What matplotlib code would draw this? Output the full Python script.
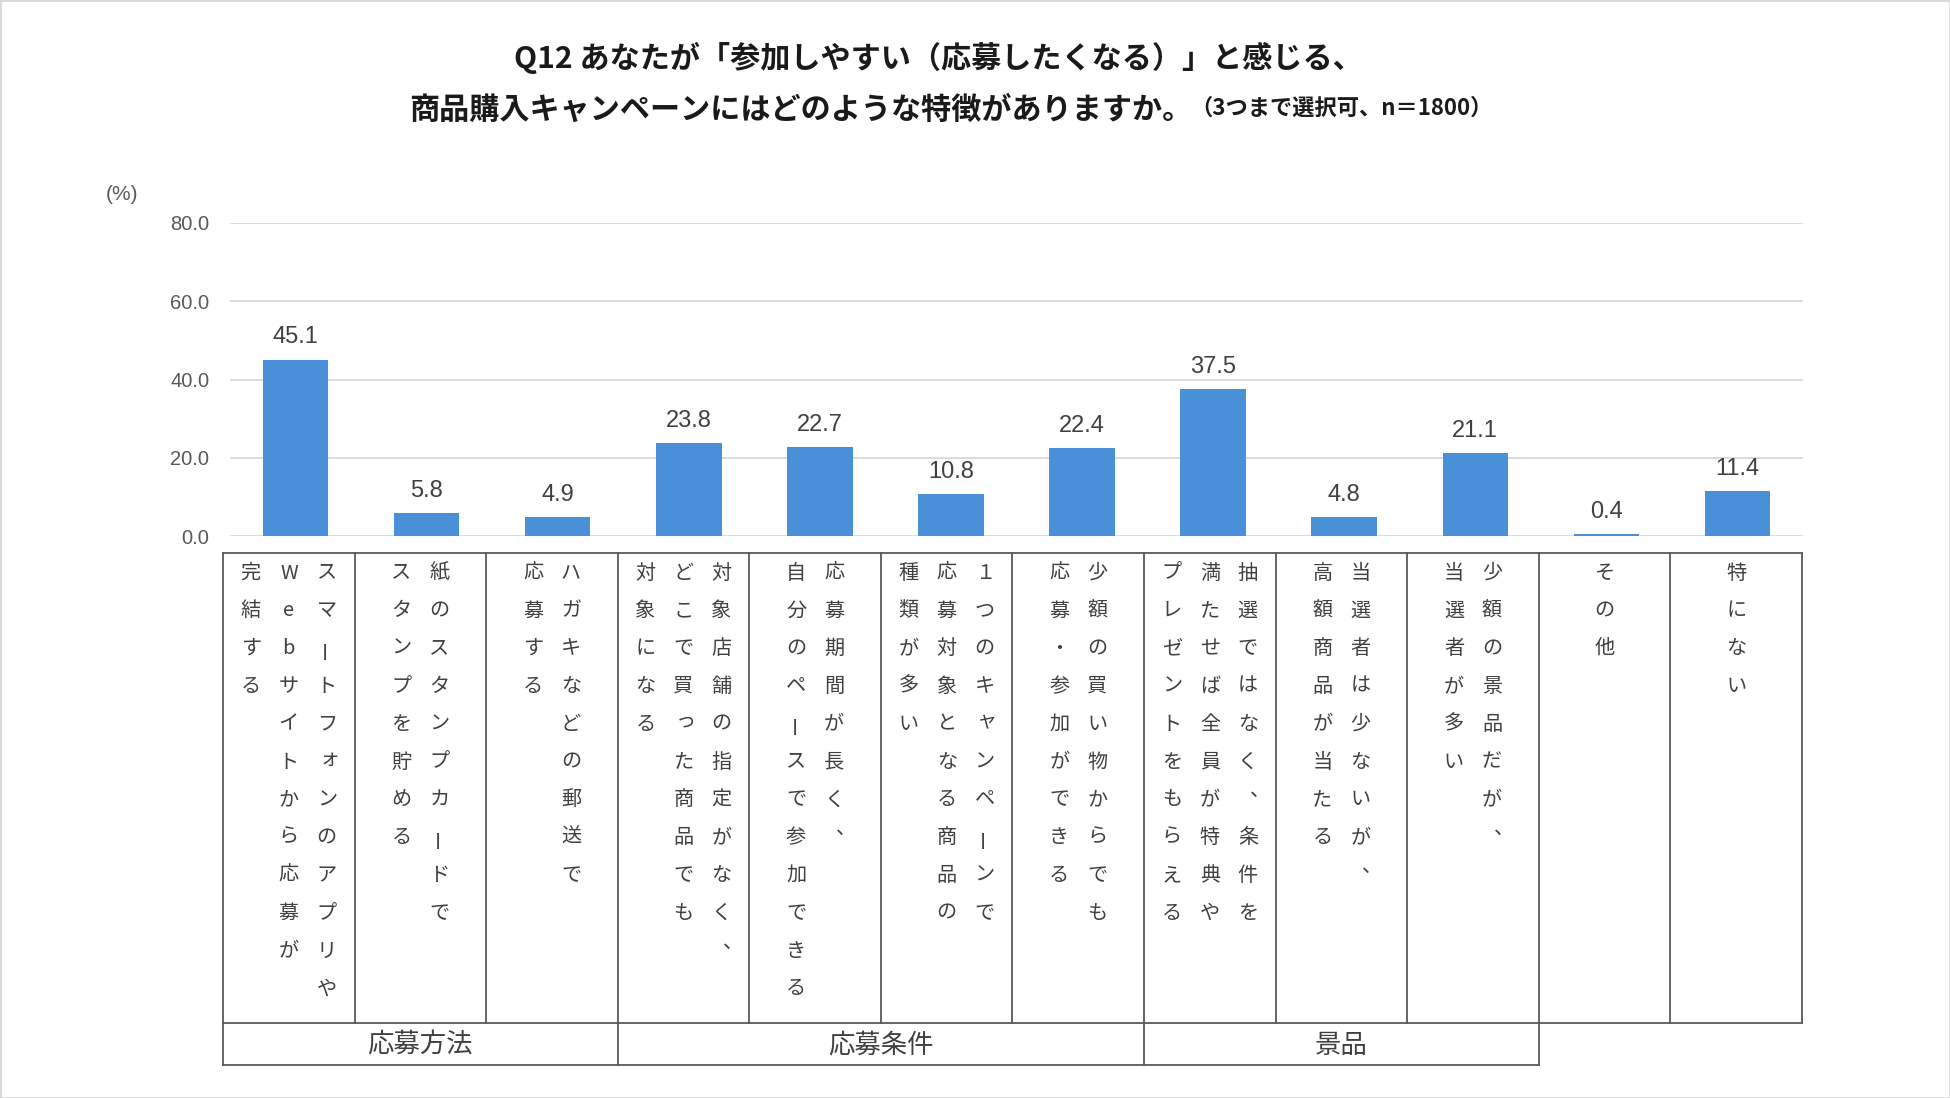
import numpy as np
import matplotlib
matplotlib.use("Agg")
import matplotlib.pyplot as plt
from matplotlib.patches import Rectangle

# === CONFIG ===
W, H = 1950, 1098
JP = ['Noto Sans CJK JP', 'DejaVu Sans']
NUM = ['Liberation Sans', 'DejaVu Sans']
BAR_COLOR = '#4a90d9'
LINE_COLOR = '#595959'

plt.rcParams['font.family'] = JP

# === DATA ===
title_line1 = "Q12 あなたが「参加しやすい（応募したくなる）」と感じる、"
title_line2 = "商品購入キャンペーンにはどのような特徴がありますか。"
subtitle = "（3つまで選択可、n＝1800）"

values = [45.1, 5.8, 4.9, 23.8, 22.7, 10.8, 22.4, 37.5, 4.8, 21.1, 0.4, 11.4]

# vertical labels, columns listed right to left
labels = [
    ["スマートフォンのアプリや", "Webサイトから応募が", "完結する"],
    ["紙のスタンプカードで", "スタンプを貯める"],
    ["ハガキなどの郵送で", "応募する"],
    ["対象店舗の指定がなく、", "どこで買った商品でも", "対象になる"],
    ["応募期間が長く、", "自分のペースで参加できる"],
    ["１つのキャンペーンで", "応募対象となる商品の", "種類が多い"],
    ["少額の買い物からでも", "応募・参加ができる"],
    ["抽選ではなく、条件を", "満たせば全員が特典や", "プレゼントをもらえる"],
    ["当選者は少ないが、", "高額商品が当たる"],
    ["少額の景品だが、", "当選者が多い"],
    ["その他"],
    ["特にない"],
]

groups = ["応募方法", "応募条件", "景品"]
group_spans = [(0, 2), (3, 6), (7, 9)]

yticks = [0, 20, 40, 60, 80]

# === FIGURE ===
fig = plt.figure(figsize=(W / 100, H / 100), dpi=100)
fig.patches.append(Rectangle((0, 0), 1, 1, transform=fig.transFigure,
                             fill=False, ec='#d9d9d9', lw=2))

# --- bar chart ---
ax = fig.add_axes([230 / W, 1 - 536 / H, 1573 / W, 313 / H])
x = np.arange(len(values))
ax.bar(x, values, width=0.5, color=BAR_COLOR, zorder=3)
ax.set_xlim(-0.5, len(values) - 0.5)
ax.set_ylim(0, 80)
ax.set_yticks(yticks)
ax.set_yticklabels([f"{v:.1f}" for v in yticks], fontfamily=NUM,
                   fontsize=14.5, color='#595959')
ax.set_xticks([])
ax.tick_params(axis='y', length=0, pad=15)
ax.yaxis.grid(True, color='#d9d9d9', lw=1.3)
ax.set_axisbelow(True)
for s in ax.spines.values():
    s.set_visible(False)

for xi, v in zip(x, values):
    ax.annotate(f"{v:.1f}", (xi, v), xytext=(0, 8), textcoords='offset points',
                ha='center', va='bottom', fontsize=17, fontfamily=NUM,
                color='#404040')

fig.text(122 / W, 1 - 195 / H, "(%)", ha='center', va='center',
         fontsize=15, color='#595959', fontfamily=NUM)

# --- category table ---
top, row_bot, grp_bot = 553, 1023, 1065
tax = fig.add_axes([223 / W, 1 - grp_bot / H, 1579 / W, (grp_bot - top) / H])
n = len(values)
tax.set_xlim(-0.5, n - 0.5)
tax.set_ylim(grp_bot, top)
tax.axis('off')

kw = dict(color=LINE_COLOR, lw=1.3, clip_on=False)
tax.plot([-0.5, n - 0.5], [top, top], **kw)
tax.plot([-0.5, n - 0.5], [row_bot, row_bot], **kw)
for k in range(n + 1):
    tax.plot([k - 0.5, k - 0.5], [top, row_bot], **kw)
last = group_spans[-1][1] + 0.5
tax.plot([-0.5, last], [grp_bot, grp_bot], **kw)
edges = [-0.5] + [b + 0.5 for _, b in group_spans]
for e in edges:
    tax.plot([e, e], [row_bot, grp_bot], **kw)

for name, (a, b) in zip(groups, group_spans):
    tax.text((a + b) / 2, (row_bot + grp_bot) / 2 + 1, name, ha='center',
             va='center', fontsize=19, color='#404040')

col_step = 38 / 131.6
row_step = 37.8
first_row = 573
small = set("ャュョッォァィゥェゃゅょっぁぃぅぇぉ")
for i, cols in enumerate(labels):
    nc = len(cols)
    for j, col in enumerate(cols):
        cx = i + (nc - 1) / 2 * col_step - j * col_step
        for r, ch in enumerate(col):
            cy = first_row + r * row_step
            rot = 0
            dx, dy = 0, 0
            if ch == "ー":
                rot = 90
            elif ch in "、。":
                dx, dy = 0.09, -9
            elif ch in small:
                dx, dy = 0.02, -3
            tax.text(cx + dx, cy + dy, ch, ha='center', va='center',
                     fontsize=14.5, color='#404040', rotation=rot)

# --- titles ---
fig.text(938 / W, 1 - 58 / H, title_line1, ha='center', va='center',
         fontsize=21.7, fontweight='bold', color='#1a1a1a')
fig.text(1192 / W, 1 - 110 / H, title_line2, ha='right', va='center',
         fontsize=21.7, fontweight='bold', color='#1a1a1a')
fig.text(1190 / W, 1 - 108 / H, subtitle, ha='left', va='center',
         fontsize=16, fontweight='bold', color='#1a1a1a')

fig.savefig("out.png", dpi=100)
